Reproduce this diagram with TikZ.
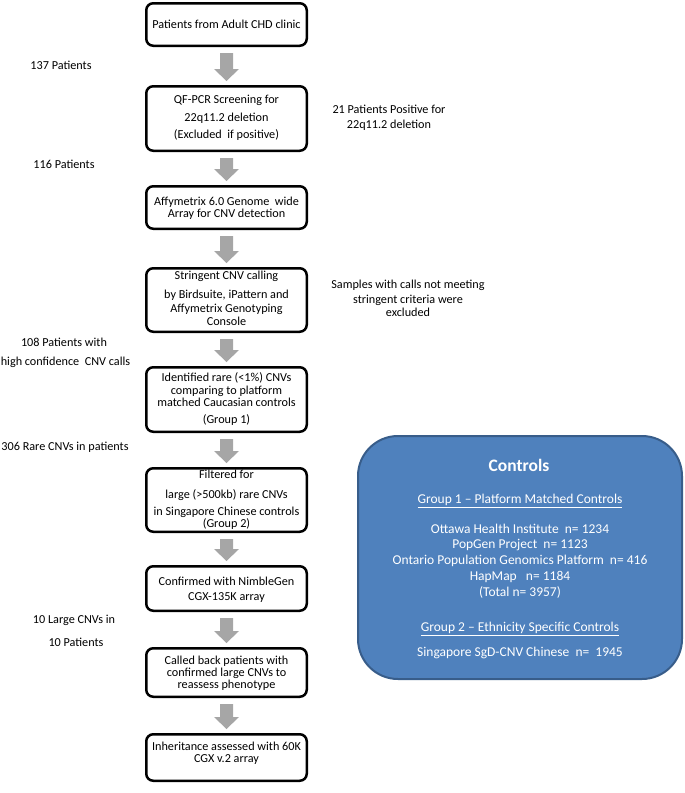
\documentclass[tikz,border=0pt]{standalone}
\usepackage{fontspec}
\setmainfont{Carlito}
\usetikzlibrary{calc}
\definecolor{agray}{HTML}{A6A6A6}
\definecolor{cfill}{HTML}{4F81BD}
\definecolor{cdraw}{HTML}{385D8A}
\newcommand\flowarrow[2]{%
  \fill[agray] ($(#1.south)+(-6.5,6)$) -- ($(#1.south)+(6.5,6)$)
    -- ($(#2.north)+(6.5,-16)$) -- ($(#2.north)+(12.5,-16)$)
    -- ($(#2.north)+(0,-4)$) -- ($(#2.north)+(-12.5,-16)$)
    -- ($(#2.north)+(-6.5,-16)$) -- cycle;}
\begin{document}
\begin{tikzpicture}[x=1pt,y=-1pt,
  flowbox/.style={draw=black, line width=2.5pt, rounded corners=7pt,
    minimum width=160.5pt, inner sep=0pt, fill=white},
  txt/.style={font=\fontsize{12.2}{14}\selectfont, inner sep=0pt,
    text height=8.5pt, text depth=2.5pt},
  wtxt/.style={font=\fontsize{13.5}{16}\selectfont, inner sep=0pt,
    text height=9.5pt, text depth=3pt, text=white},
]
\useasboundingbox (0,0) rectangle (685,793);

% flow boxes
\node[flowbox, minimum height=42.5pt] (b1) at (226.5,24.5) {};
\node[flowbox, minimum height=64.5pt] (b2) at (226.5,118.5) {};
\node[flowbox, minimum height=42.5pt] (b3) at (226.5,207.5) {};
\node[flowbox, minimum height=63.5pt] (b4) at (226.5,300) {};
\node[flowbox, minimum height=64.5pt] (b5) at (226.5,399.5) {};
\node[flowbox, minimum height=63.5pt] (b6) at (226.5,500) {};
\node[flowbox, minimum height=44.5pt] (b7) at (226.5,588.5) {};
\node[flowbox, minimum height=48.5pt] (b8) at (226.5,672.5) {};
\node[flowbox, minimum height=46.5pt] (b9) at (226.5,757.5) {};

% box texts
\node[txt] (t11) at (226.5,25) {Patients from Adult CHD clinic};
\node[txt] (t21) at (226.5,100) {QF-PCR Screening for};
\node[txt] (t22) at (226.5,118) {22q11.2 deletion};
\node[txt] (t23) at (226.5,135) {(Excluded\ \ if positive)};
\node[txt] (t31) at (226.5,202) {Affymetrix 6.0 Genome\ \ wide};
\node[txt] (t32) at (226.5,214) {Array for CNV detection};
\node[txt] (t41) at (226.5,276) {Stringent CNV calling};
\node[txt] (t42) at (226.5,295) {by Birdsuite, iPattern and};
\node[txt] (t43) at (226.5,309) {Affymetrix Genotyping};
\node[txt] (t44) at (226.5,322) {Console};
\node[txt] (t51) at (226.5,378) {Identified rare (<1\%) CNVs};
\node[txt] (t52) at (226.5,391) {comparing to platform};
\node[txt] (t53) at (226.5,403) {matched Caucasian controls};
\node[txt] (t54) at (226.5,420) {(Group 1)};
\node[txt] (t61) at (226.5,475) {Filtered for};
\node[txt] (t62) at (226.5,495) {large (>500kb) rare CNVs};
\node[txt] (t63) at (226.5,512) {in Singapore Chinese controls};
\node[txt] (t64) at (226.5,524) {(Group 2)};
\node[txt] (t71) at (226.5,582) {Confirmed with NimbleGen};
\node[txt] (t72) at (226.5,597) {CGX-135K array};
\node[txt] (t81) at (226.5,661) {Called back patients with};
\node[txt] (t82) at (226.5,673) {confirmed large CNVs to};
\node[txt] (t83) at (226.5,685) {reassess phenotype};
\node[txt] (t91) at (226.5,747) {Inheritance assessed with 60K};
\node[txt] (t92) at (226.5,759) {CGX v.2 array};

% block arrows
\flowarrow{b1}{b2}
\flowarrow{b2}{b3}
\flowarrow{b3}{b4}
\flowarrow{b4}{b5}
\flowarrow{b5}{b6}
\flowarrow{b6}{b7}
\flowarrow{b7}{b8}
\flowarrow{b8}{b9}

% left labels
\node[txt] (l1) at (61,66) {137 Patients};
\node[txt] (l2) at (64,165) {116 Patients};
\node[txt] (l3a) at (64,343) {108 Patients with};
\node[txt] (l3b) at (65.5,362) {high confidence\ \ CNV calls};
\node[txt] (l4) at (65,447) {306 Rare CNVs in patients};
\node[txt] (l5a) at (74,620) {10 Large CNVs in};
\node[txt] (l5b) at (76,643) {10 Patients};

% right labels
\node[txt] (r1a) at (389,110) {21 Patients Positive for};
\node[txt] (r1b) at (389,125) {22q11.2 deletion};
\node[txt] (r2a) at (408,285) {Samples with calls not meeting};
\node[txt] (r2b) at (408,300) {stringent criteria were};
\node[txt] (r2c) at (408,313) {excluded};

% controls panel
\node[draw=cdraw, fill=cfill, line width=2pt, rounded corners=40pt,
  minimum width=324pt, minimum height=243pt, inner sep=0pt] (ctrl) at (520,557.5) {};
\node[wtxt, font=\fontsize{17.5}{20}\selectfont\bfseries, text height=12pt, text depth=3.5pt] (c0) at (519,467) {Controls};
\node[wtxt] (c1) at (520,500) {\underline{Group 1 – Platform Matched Controls}};
\node[wtxt] (c2) at (520,530) {Ottawa Health Institute\ \ n= 1234};
\node[wtxt] (c3) at (520,545) {PopGen Project\ \ n= 1123};
\node[wtxt] (c4) at (520,561) {Ontario Population Genomics Platform\ \ n= 416};
\node[wtxt] (c5) at (520,577) {HapMap\ \ \ n= 1184};
\node[wtxt] (c6) at (520,593) {(Total n= 3957)};
\node[wtxt] (c7) at (520,628) {\underline{Group 2 – Ethnicity Specific Controls}};
\node[wtxt] (c8) at (520,653) {Singapore SgD-CNV Chinese\ \ n=\ \ 1945};
\end{tikzpicture}
\end{document}
